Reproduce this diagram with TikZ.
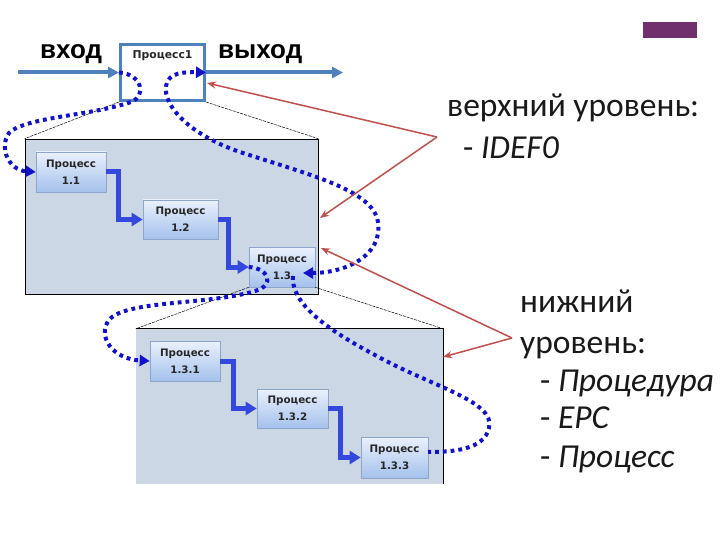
\documentclass[tikz,border=0pt]{standalone}
\usepackage{fontspec}
\usepackage{graphicx}
\setmainfont{Carlito}
\newfontfamily\arialf{Liberation Sans}
\newfontfamily\dvs{DejaVu Sans}
\usetikzlibrary{arrows.meta,calc}
\definecolor{steel}{RGB}{79,129,189}
\definecolor{panelc}{RGB}{204,215,229}
\definecolor{boxtop}{RGB}{234,241,252}
\definecolor{boxbot}{RGB}{165,193,236}
\definecolor{boxline}{RGB}{140,165,200}
\definecolor{elbowc}{RGB}{52,72,222}
\definecolor{dotc}{RGB}{18,18,205}
\definecolor{redc}{RGB}{192,80,77}
\definecolor{purp}{RGB}{112,48,110}
\tikzset{
  dtip/.tip={Triangle[length=10pt,width=11pt]},
  proc/.style={draw=boxline, line width=0.6pt, top color=boxtop, bottom color=boxbot,
    align=center, inner sep=0pt, font=\dvs\bfseries\fontsize{10.3}{17}\selectfont,
    text=black!85},
  panel/.style={fill=panelc, inner sep=0pt},
  elbow/.style={draw=elbowc, line width=5pt, -{Triangle[length=11pt,width=13pt]}},
  dotp/.style={draw=dotc, line width=4pt, dash pattern=on 3.8pt off 4pt},
  redarr/.style={draw=redc, line width=1.5pt, -{Stealth[length=9pt,width=7pt]}},
  zoomline/.style={draw=black, line width=0.5pt, dash pattern=on 3pt off 1pt},
  bigarrow/.style={draw=steel, line width=4pt, -{Triangle[length=11pt,width=11pt]}},
  rtext/.style={anchor=base west, inner sep=0pt, font=\fontsize{33.5}{38}\selectfont, text=black!90},
  iotext/.style={anchor=base west, inner sep=0pt, font=\arialf\bfseries\fontsize{26}{30}\selectfont},
}
\begin{document}
\begin{tikzpicture}[x=1pt,y=-1pt]
\useasboundingbox (0,0) rectangle (720,540);
\fill[white] (0,0) rectangle (720,540);
% purple mark
\node[fill=purp, minimum width=54pt, minimum height=16pt, inner sep=0pt] (mark) at (670,30) {};
% panels
\node[panel, draw=black, line width=0.6pt, minimum width=293pt, minimum height=155pt] (pan1) at (171.5,216.5) {};
\node[panel, minimum width=307pt, minimum height=155pt] (pan2) at (289.5,406.5) {};
\draw[black, line width=0.7pt] (pan2.south east) -- (pan2.north east) -- (pan2.north west);
% process 1
\node[draw=steel, line width=3pt, fill=white, minimum width=84pt, minimum height=56pt, inner sep=0pt] (p1) at (162.5,72.5) {};
\node[font=\dvs\bfseries\fontsize{10.8}{12}\selectfont, inner sep=0pt, text=black!85] (p1t) at (162.5,56) {Процесс1};
% zoom lines
\draw[zoomline] (p1.south west) -- (pan1.north west);
\draw[zoomline] (p1.south east) -- (pan1.north east);
% sub processes
\node[proc, minimum width=70pt, minimum height=40pt] (p11) at (71,172) {Процесс\\1.1};
\node[proc, minimum width=75pt, minimum height=39pt] (p12) at (180.5,219.5) {Процесс\\1.2};
\node[proc, minimum width=66pt, minimum height=40pt] (p13) at (282,267) {Процесс\\1.3};
\draw[zoomline] (p13.south west) -- (pan2.north west);
\draw[zoomline] (p13.south east) -- (pan2.north east);
\node[proc, minimum width=70pt, minimum height=40pt] (p131) at (185,361) {Процесс\\1.3.1};
\node[proc, minimum width=71pt, minimum height=39pt] (p132) at (292.5,408.5) {Процесс\\1.3.2};
\node[proc, minimum width=67pt, minimum height=41pt] (p133) at (394.5,457.5) {Процесс\\1.3.3};
% elbows
\draw[elbow] (p11.east) -- ++(12,0) |- (p12.west);
\draw[elbow] (p12.east) -- ++(10,0) |- (p13.west);
\draw[elbow] (p131.east) -- ++(13,0) |- (p132.west);
\draw[elbow] (p132.east) -- ++(12,0) |- (p133.west);
% input / output
\coordinate (inS) at (18,72.5);
\coordinate (outE) at (343,72.5);
\draw[bigarrow] (inS) -- (p1.west);
\draw[bigarrow] (p1.east) -- (outE);
\node[iotext] (vhod) at (40,59) {вход};
\node[iotext] (vyhod) at (218,59) {выход};
% dotted paths
\draw[dotp, -{dtip}] (p1.west) .. controls (142,74) and (147,96) .. (131,102)
  .. controls (90,116) and (25,117) .. (9,133) .. controls (-1,147) and (8,170) .. (p11.west);
\coordinate (b0) at (303,273);
\draw[dotp, {dtip}-{dtip}] (b0) .. controls (345,273) and (383,256) .. (378,222)
  .. controls (373,190) and (310,175) .. (240,152) .. controls (190,135) and (163,106) .. (166,86)
  .. controls (168,72) and (185,72) .. (p1.east);
\draw[dotp, -{dtip}] (p13.west) .. controls (268,268) and (276,285) .. (255,291)
  .. controls (210,305) and (125,300) .. (109,320) .. controls (97,336) and (112,359) .. (p131.west);
\coordinate (d0) at (293,276);
\coordinate (d1) at (428,452);
\draw[dotp] (d0) .. controls (291,300) and (318,325) .. (375,355)
  .. controls (430,386) and (496,401) .. (489,428) .. controls (484,450) and (452,452) .. (d1);
% red arrows
\coordinate (r1) at (437,137);
\coordinate (r1a) at (207,83);
\coordinate (r1b) at (320,218);
\coordinate (r2) at (512,338);
\coordinate (r2a) at (321,248);
\coordinate (r2b) at (443,357);
\draw[redarr] (r1) -- (r1a);
\draw[redarr] (r1) -- (r1b);
\draw[redarr] (r2) -- (r2a);
\draw[redarr] (r2) -- (r2b);
% right texts
\node[rtext] (t1) at (447,117) {верхний уровень:};
\node[rtext] (t2) at (463,159) {- \textit{IDEF0}};
\node[rtext] (t3) at (520,312) {нижний};
\node[rtext] (t4) at (520,353) {уровень:};
\node[rtext] (t5) at (540,391) {- \textit{Процедура}};
\node[rtext] (t6) at (540,428) {- \textit{EPC}};
\node[rtext] (t7) at (540,467) {- \textit{Процесс}};
\end{tikzpicture}
\end{document}
